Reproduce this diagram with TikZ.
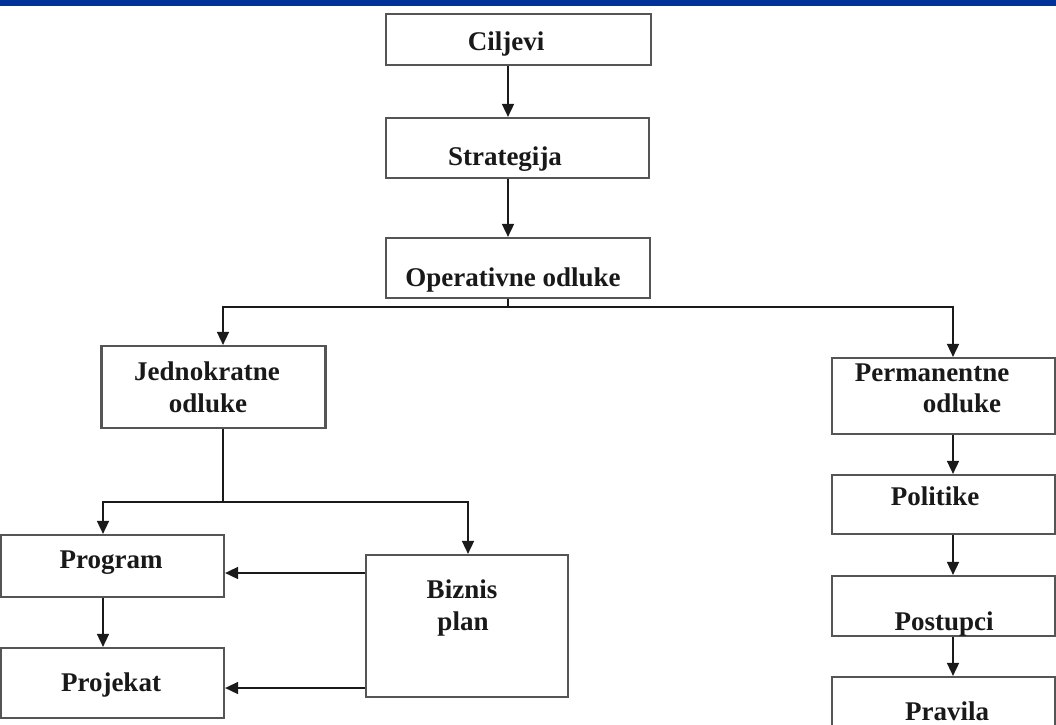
\documentclass[tikz,border=0pt]{standalone}
\usepackage{fontspec}
\setmainfont{Liberation Serif}
\usetikzlibrary{arrows.meta}
\definecolor{barblue}{HTML}{003399}
\definecolor{boxgray}{HTML}{555555}
\definecolor{linegray}{HTML}{1A1A1A}
\tikzset{
  box/.style={draw=boxgray, line width=2.2pt, fill=white, rectangle, inner sep=0pt},
  txt/.style={font=\fontsize{27}{30}\selectfont\bfseries, anchor=base, inner sep=0pt, text=black!90},
  conn/.style={draw=linegray, line width=1.6pt},
  arr/.style={conn, -{Triangle[length=13pt,width=12pt]}},
}
\begin{document}
\begin{tikzpicture}[x=1pt,y=-1pt]
\useasboundingbox (0,0) rectangle (1056,724);
\clip (0,0) rectangle (1056,724);
\fill[white] (0,0) rectangle (1056,724);
\fill[barblue] (0,0) rectangle (1056,6);

% boxes
\node[box, minimum width=265pt, minimum height=51pt] (cil) at (518.5,39.5) {};
\node[box, minimum width=263pt, minimum height=60pt] (str) at (517.5,148) {};
\node[box, minimum width=264pt, minimum height=60pt] (op)  at (518,268) {};
\node[box, minimum width=224pt, minimum height=82pt] (jed) at (213.5,387) {};
\node[box, minimum width=223pt, minimum height=62pt] (prog) at (112.5,566) {};
\node[box, minimum width=223pt, minimum height=70pt] (proj) at (112.5,683) {};
\node[box, minimum width=202pt, minimum height=142pt] (biz) at (467,626) {};
\node[box, minimum width=223pt, minimum height=76pt] (perm) at (943.5,396) {};
\node[box, minimum width=223pt, minimum height=59pt] (pol) at (943.5,504.5) {};
\node[box, minimum width=223pt, minimum height=60pt] (post) at (943.5,606) {};
\node[box, minimum width=223pt, minimum height=70pt] (prav) at (943.5,712) {};

% texts
\node[txt] (tcil) at (506,50) {Ciljevi};
\node[txt] (tstr) at (505,165) {Strategija};
\node[txt] (top) at (513,286) {Operativne odluke};
\node[txt] (tjed1) at (207,380) {Jednokratne};
\node[txt] (tjed2) at (208,412) {odluke};
\node[txt] (tprog) at (111,568) {Program};
\node[txt] (tproj) at (111,691) {Projekat};
\node[txt] (tbiz1) at (462,598) {Biznis};
\node[txt] (tbiz2) at (463,630) {plan};
\node[txt] (tperm1) at (932,381) {Permanentne};
\node[txt] (tperm2) at (962,412) {odluke};
\node[txt] (tpol) at (935,505) {Politike};
\node[txt] (tpost) at (944,630) {Postupci};
\node[txt] (tprav) at (947,720) {Pravila};

% connectors
\coordinate (opj) at (508,307);
\coordinate (jj) at (223,502);
\draw[arr] (cil.south -| 508,0) -- (str.north -| 508,0);
\draw[arr] (str.south -| 508,0) -- (op.north -| 508,0);
\draw[conn] (op.south -| opj) -- (opj);
\draw[arr] (opj) -| (jed.north -| 223,0);
\draw[arr] (opj) -| (perm.north -| 953,0);
\draw[conn] (jed.south -| jj) -- (jj);
\draw[arr] (jj) -| (prog.north -| 103,0);
\draw[arr] (jj) -| (biz.north -| 468,0);
\draw[arr] (prog.south -| 103,0) -- (proj.north -| 103,0);
\draw[arr] (biz.west |- 0,573) -- (prog.east |- 0,573);
\draw[arr] (biz.west |- 0,688) -- (proj.east |- 0,688);
\draw[arr] (perm.south -| 953,0) -- (pol.north -| 953,0);
\draw[arr] (pol.south -| 953,0) -- (post.north -| 953,0);
\draw[arr] (post.south -| 953,0) -- (prav.north -| 953,0);
\end{tikzpicture}
\end{document}
